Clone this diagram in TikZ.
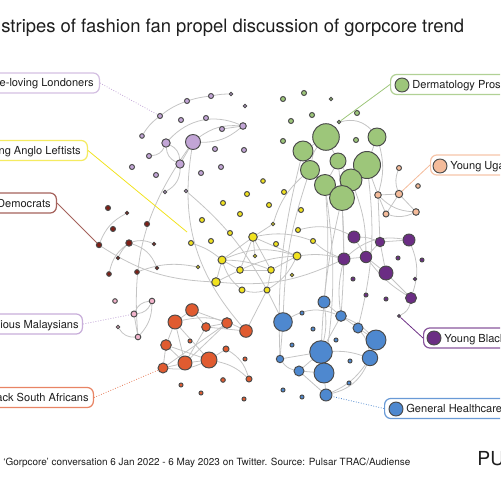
\documentclass[tikz,border=0pt]{standalone}
\usepackage{fontspec}
\setmainfont{TeX Gyre Heros}
\usetikzlibrary{backgrounds}

\definecolor{lavC}{HTML}{C2A5D6}
\definecolor{marC}{HTML}{7E1F16}
\definecolor{pnkC}{HTML}{F2B3CB}
\definecolor{yelC}{HTML}{F1E21E}
\definecolor{grnC}{HTML}{9DC67A}
\definecolor{salC}{HTML}{F4BB9A}
\definecolor{vioC}{HTML}{6B2D84}
\definecolor{bluC}{HTML}{4E88CF}
\definecolor{oraC}{HTML}{E05B30}
\definecolor{nodeC}{HTML}{4A4A4A}
\definecolor{linkC}{HTML}{C4C4C4}
\definecolor{inkC}{HTML}{1E1E1E}

\begin{document}
\begin{tikzpicture}[x=0.02cm, y=-0.02cm]
  \useasboundingbox (0,0) rectangle (500,500);
  \clip (0,0) rectangle (500,500);

  \tikzset{vertex/.style = {shape=circle, draw=nodeC, line width=0.55pt, inner sep=0pt, minimum size=#1*0.4mm}, vertex/.default=2.5}
  \tikzset{link/.style = {draw=linkC, line width=0.45pt}}
  \tikzset{lead/.style = {line width=0.45pt}}
  \tikzset{tagbox/.style = {draw, fill=white, rounded corners=3.5pt, line width=0.7pt, inner sep=0pt, minimum height=0.4cm, minimum width=3cm}}
  \tikzset{tagtext/.style = {inner sep=0pt, text=inkC, font=\fontsize{6.3}{7}\selectfont}}
  \tikzset{lav/.style={vertex=#1, fill=lavC}, lav/.default=2.5}
  \tikzset{mar/.style={vertex=#1, fill=marC}, mar/.default=2.5}
  \tikzset{pnk/.style={vertex=#1, fill=pnkC}, pnk/.default=2.5}
  \tikzset{yel/.style={vertex=#1, fill=yelC}, yel/.default=2.5}
  \tikzset{grn/.style={vertex=#1, fill=grnC}, grn/.default=2.5}
  \tikzset{sal/.style={vertex=#1, fill=salC}, sal/.default=2.5}
  \tikzset{vio/.style={vertex=#1, fill=vioC}, vio/.default=2.5}
  \tikzset{blu/.style={vertex=#1, fill=bluC}, blu/.default=2.5}
  \tikzset{ora/.style={vertex=#1, fill=oraC}, ora/.default=2.5}

  % title and footer
  \node[anchor=base west, inner sep=0pt, text=inkC, font=\fontsize{10.5}{12}\selectfont] (title) at (1,33) {stripes of fashion fan propel discussion of gorpcore trend};
  \node[anchor=base west, inner sep=0pt, text=inkC, font=\fontsize{5.65}{6.5}\selectfont] (source) at (3,465) {‘Gorpcore’ conversation 6 Jan 2022 - 6 May 2023 on Twitter. Source: Pulsar TRAC/Audiense};
  \node[anchor=base west, inner sep=0pt, text=inkC, font=\fontsize{11}{12}\selectfont] (brand) at (477,465) {PU};

  % lavender
  \node[lav] (l1) at (160,116) {};
  \node[lav] (l2) at (187,101) {};
  \node[lav] (l3) at (211,96) {};
  \node[lav=1.8] (l4) at (231,94) {};
  \node[lav=2.3] (l5) at (142,136) {};
  \node[lav] (l6) at (181,120) {};
  \node[lav] (l7) at (206,118) {};
  \node[lav=1.8] (l8) at (245,106) {};
  \node[lav=3.3] (l9) at (243,126) {};
  \node[lav] (l10) at (222,129) {};
  \node[lav=7.5] (l11) at (193,142) {};
  \node[lav=4.2] (l12) at (166,143) {};
  \node[lav=4.2] (l13) at (180,164) {};
  \node[lav] (l14) at (149,156) {};
  \node[lav] (l15) at (132,167) {};
  \node[lav] (l16) at (156,175) {};
  \node[lav=1.7] (l17) at (165,192) {};
  \node[lav=1.7] (l18) at (186,191) {};
  \node[lav] (l19) at (215,149) {};
  \node[lav] (l20) at (244,150) {};
  \node[lav] (l21) at (201,173) {};
  \node[lav] (l22) at (221,167) {};

  % maroon
  \node[mar] (m1) at (108,208) {};
  \node[mar=1.8] (m2) at (127,213) {};
  \node[mar] (m3) at (113,229) {};
  \node[mar] (m4) at (147,224) {};
  \node[mar=2.7] (m5) at (99,245) {};
  \node[mar=3.2] (m6) at (129,243) {};
  \node[mar=1.8] (m7) at (154,244) {};
  \node[mar=1.8] (m8) at (118,258) {};
  \node[mar=2.3] (m9) at (109,274) {};
  \node[mar=2.3] (m10) at (137,272) {};
  \node[mar=1.8] (m11) at (157,268) {};

  % pink
  \node[pnk=2.3] (k1) at (115,301) {};
  \node[pnk=2.8] (k2) at (152,301) {};
  \node[pnk=3] (k3) at (134,314) {};
  \node[pnk=1.8] (k4) at (118,327) {};
  \node[pnk=2.8] (k5) at (138,337) {};

  % yellow
  \node[yel] (y1) at (247,194) {};
  \node[yel] (y2) at (284,192) {};
  \node[yel] (y3) at (223,203) {};
  \node[yel] (y4) at (269,205) {};
  \node[yel] (y5) at (240,214) {};
  \node[yel] (y6) at (301,210) {};
  \node[yel] (y7) at (202,220) {};
  \node[yel=1.7] (y8) at (273,224) {};
  \node[yel] (y9) at (230,233) {};
  \node[yel] (y10) at (298,230) {};
  \node[yel] (y11) at (191,243) {};
  \node[yel] (y12) at (211,241) {};
  \node[yel=4.3] (y13) at (253,237) {};
  \node[yel] (y14) at (276,244) {};
  \node[yel] (y15) at (313,241) {};
  \node[yel=1.7] (y16) at (255,256) {};
  \node[yel=4] (y17) at (222,260) {};
  \node[yel=4] (y18) at (297,256) {};
  \node[yel=1.7] (y19) at (198,267) {};
  \node[yel=3.3] (y20) at (240,270) {};
  \node[yel=3.3] (y21) at (271,270) {};
  \node[yel=1.7] (y22) at (292,275) {};
  \node[yel=4.3] (y23) at (216,282) {};
  \node[yel=3] (y24) at (242,290) {};
  \node[yel=3] (y25) at (267,290) {};
  \node[yel=2.3] (y26) at (263,181) {};

  % green
  \node[grn] (g1) at (283,99) {};
  \node[grn] (g2) at (304,93) {};
  \node[grn=1.7] (g3) at (331,99) {};
  \node[grn] (g4) at (312,115) {};
  \node[grn] (g5) at (357,113) {};
  \node[grn] (g6) at (291,121) {};
  \node[grn=1.7] (g7) at (339,122) {};
  \node[grn] (g8) at (283,141) {};
  \node[grn] (g9) at (356,140) {};
  \node[grn=13.3] (g10) at (326,137) {};
  \node[grn=9] (g11) at (377,137) {};
  \node[grn=10] (g12) at (303,151) {};
  \node[grn=8] (g13) at (338,161) {};
  \node[grn=13.5] (g14) at (367,165) {};
  \node[grn=9.5] (g15) at (310,170) {};
  \node[grn=10.5] (g16) at (325,185) {};
  \node[grn=11] (g17) at (351,180) {};
  \node[grn=12.5] (g18) at (342,198) {};

  % salmon
  \node[sal] (s1) at (399,168) {};
  \node[sal=2.3] (s2) at (418,186) {};
  \node[sal=3.3] (s3) at (378,195) {};
  \node[sal=3.7] (s4) at (399,194) {};
  \node[sal=3] (s5) at (386,214) {};
  \node[sal=3.3] (s6) at (416,212) {};

  % violet
  \node[vio=6] (v1) at (354,237) {};
  \node[vio=4.7] (v2) at (380,242) {};
  \node[vio=6] (v3) at (409,240) {};
  \node[vio=6] (v4) at (344,259) {};
  \node[vio=5.7] (v5) at (366,257) {};
  \node[vio=2] (v6) at (398,258) {};
  \node[vio=2] (v7) at (422,260) {};
  \node[vio=7] (v8) at (386,273) {};
  \node[vio=2] (v9) at (353,279) {};
  \node[vio=1.7] (v10) at (415,279) {};
  \node[vio=2] (v11) at (366,295) {};
  \node[vio=2] (v12) at (386,299) {};
  \node[vio=5.5] (v13) at (411,298) {};
  \node[vio=1.5] (v14) at (399,316) {};

  % blue
  \node[blu=6] (b1) at (324,302) {};
  \node[blu=2] (b2) at (302,313) {};
  \node[blu=5.3] (b3) at (341,316) {};
  \node[blu=9.3] (b4) at (283,322) {};
  \node[blu=5] (b5) at (358,328) {};
  \node[blu=2] (b6) at (313,329) {};
  \node[blu=10] (b7) at (376,340) {};
  \node[blu=2] (b8) at (336,340) {};
  \node[blu=2] (b9) at (292,345) {};
  \node[blu=11.3] (b10) at (321,352) {};
  \node[blu=7.7] (b11) at (370,358) {};
  \node[blu=2] (b12) at (350,361) {};
  \node[blu=3.7] (b13) at (280,359) {};
  \node[blu=5] (b14) at (299,371) {};
  \node[blu=10] (b15) at (324,373) {};
  \node[blu=2] (b16) at (349,383) {};
  \node[blu=2] (b17) at (283,390) {};
  \node[blu=2] (b18) at (302,397) {};
  \node[blu=6] (b19) at (326,395) {};

  % orange
  \node[ora=6.3] (o1) at (192,310) {};
  \node[ora=7] (o2) at (175,322) {};
  \node[ora=5.3] (o3) at (227,323) {};
  \node[ora=4.3] (o4) at (206,327) {};
  \node[ora=6.3] (o5) at (246,331) {};
  \node[ora=2] (o6) at (190,341) {};
  \node[ora=5.3] (o7) at (166,345) {};
  \node[ora=3] (o8) at (226,349) {};
  \node[ora=8] (o9) at (209,360) {};
  \node[ora=7] (o10) at (185,363) {};
  \node[ora=2] (o11) at (245,359) {};
  \node[ora=5] (o12) at (163,368) {};
  \node[ora=3] (o13) at (249,379) {};
  \node[ora=2.3] (o14) at (223,380) {};
  \node[ora=2] (o15) at (181,385) {};
  \node[ora=2] (o16) at (201,393) {};
  \node[ora=2] (o17) at (244,399) {};

  \begin{scope}[on background layer]
    % lavender links
    \draw[link, bend left=10] (l5) to (l1);
    \draw[link, bend left=8] (l1) to (l2);
    \draw[link, bend left=5] (l2) to (l3);
    \draw[link, bend left=5] (l3) to (l4);
    \draw[link, bend left=35] (l12) to (l9);
    \draw[link, bend left=20] (l11) to (l9);
    \draw[link, bend right=20] (l11) to (l9);
    \draw[link] (l10) to (l9);
    \draw[link, bend left] (l12) to (l13);
    \draw[link, bend right] (l12) to (l13);
    \draw[link] (l11) to (l13);
    \draw[link, bend right] (l14) to (l12);
    \draw[link, bend left] (l13) to (l17);
    \draw[link, bend right=20] (l11) to (k5);
    \draw[link, bend right=25] (l11) to (o5);
    \draw[link, bend left=10] (l18) to (y25);

    % maroon links
    \draw[link, bend left=20] (m5) to (m2);
    \draw[link, bend right=15] (m5) to (y23);
    \draw[link, bend right=20] (m6) to (m9);
    \draw[link, bend right=10] (m6) to (m8);
    \draw[link, bend left=20] (m6) to (m7);
    \draw[link, bend left=25] (m6) to (m11);
    \draw[link, bend left=15] (m10) to (y19);

    % pink links
    \draw[link, bend left] (k3) to (k2);
    \draw[link, bend right] (k3) to (k2);
    \draw[link] (k3) to (k5);
    \draw[link, bend right] (k4) to (k5);
    \draw[link, bend left=20] (k2) to (k5);

    % yellow links
    \draw[link] (y13) to (y17);
    \draw[link] (y13) to (y20);
    \draw[link] (y13) to (y21);
    \draw[link] (y13) to (y18);
    \draw[link] (y13) to (y16);
    \draw[link] (y13) to (y8);
    \draw[link, bend left=15] (y13) to (y15);
    \draw[link] (y17) to (y20);
    \draw[link, bend left=10] (y17) to (y21);
    \draw[link, bend left=20] (y17) to (y18);
    \draw[link] (y20) to (y21);
    \draw[link, bend left=10] (y20) to (y18);
    \draw[link] (y21) to (y18);
    \draw[link] (y17) to (y23);
    \draw[link] (y23) to (y20);
    \draw[link, bend right=15] (y17) to (y24);
    \draw[link] (y21) to (y25);
    \draw[link, bend left=15] (y18) to (y25);
    \draw[link, bend right=15] (y24) to (y25);
    \draw[link, bend left=10] (y11) to (y17);
    \draw[link, bend left=15] (y8) to (g15);
    \draw[link, bend left=10] (y18) to (v4);
    \draw[link, bend right=15] (y23) to (v4);
    \draw[link] (y25) to (b4);
    \draw[link] (y25) to (o5);

    % green links
    \draw[link, bend left=30] (g7) to (g11);
    \draw[link] (g10) to (g12);
    \draw[link] (g10) to (g13);
    \draw[link, bend right=15] (g10) to (g15);
    \draw[link] (g12) to (g15);
    \draw[link] (g15) to (g16);
    \draw[link] (g16) to (g18);
    \draw[link] (g18) to (g17);
    \draw[link] (g17) to (g14);
    \draw[link] (g14) to (g11);
    \draw[link] (g13) to (g16);
    \draw[link] (g13) to (g17);
    \draw[link, bend right=8] (g15) to (b4);
    \draw[link, bend left=5] (g16) to (b1);
    \draw[link, bend right=5] (g18) to (b10);
    \draw[link, bend left=10] (g14) to (b5);
    \draw[link, bend right=8] (g12) to (b13);
    \draw[link, bend left=8] (g16) to (b15);
    \draw[link, bend left=5] (g13) to (b3);
    \draw[link] (g18) to (v4);
    \draw[link, bend left=10] (g17) to (v5);
    \draw[link] (g14) to (s3);
    \draw[link, bend left=15] (g11) to (s3);

    % salmon links
    \draw[link, bend right=20] (s1) to (s4);
    \draw[link] (s3) to (s4);
    \draw[link, bend right=20] (s3) to (s6);
    \draw[link] (s4) to (s5);
    \draw[link] (s4) to (s6);
    \draw[link, bend right=20] (s5) to (s6);
    \draw[link] (s3) to (s5);
    \draw[link] (s3) to (v2);

    % violet links
    \draw[link] (v4) to (v5);
    \draw[link] (v5) to (v2);
    \draw[link] (v2) to (v3);
    \draw[link] (v2) to (v8);
    \draw[link] (v5) to (v8);
    \draw[link] (v1) to (v5);
    \draw[link, bend left=25] (v4) to (v3);
    \draw[link] (v8) to (v13);
    \draw[link, bend right=10] (v5) to (v13);
    \draw[link, bend left=20] (v3) to (v13);
    \draw[link, bend left=25] (v13) to (v14);
    \draw[link, bend left=10] (v1) to (v2);
    \draw[link, bend right=20] (v1) to (y10);
    \draw[link, bend left=10] (v4) to (y15);
    \draw[link, bend right=10] (v4) to (b3);

    % blue links
    \draw[link] (b4) to (b13);
    \draw[link, bend left=25] (b4) to (b3);
    \draw[link] (b1) to (b3);
    \draw[link] (b3) to (b5);
    \draw[link] (b3) to (b10);
    \draw[link, bend left=15] (b5) to (b11);
    \draw[link] (b5) to (b7);
    \draw[link, bend left=10] (b3) to (b7);
    \draw[link] (b10) to (b15);
    \draw[link] (b10) to (b14);
    \draw[link] (b10) to (b13);
    \draw[link] (b15) to (b14);
    \draw[link] (b15) to (b19);
    \draw[link] (b14) to (b19);
    \draw[link, bend right=15] (b19) to (b11);
    \draw[link, bend right=25] (b19) to (b11);
    \draw[link] (b11) to (b7);
    \draw[link, bend left=10] (b10) to (b11);
    \draw[link, bend right=20] (b13) to (b14);
    \draw[link, bend left=10] (b1) to (b10);

    % orange links
    \draw[link] (o1) to (o2);
    \draw[link] (o1) to (o3);
    \draw[link] (o1) to (o4);
    \draw[link] (o2) to (o7);
    \draw[link] (o2) to (o10);
    \draw[link] (o2) to (o9);
    \draw[link] (o4) to (o3);
    \draw[link] (o4) to (o10);
    \draw[link] (o3) to (o10);
    \draw[link] (o3) to (o12);
    \draw[link] (o7) to (o12);
    \draw[link] (o7) to (o9);
    \draw[link] (o7) to (o10);
    \draw[link] (o10) to (o9);
    \draw[link] (o12) to (o10);
    \draw[link, bend right=15] (o12) to (o9);
    \draw[link] (o9) to (o8);
    \draw[link, bend left=15] (o9) to (o13);
    \draw[link, bend left=20] (o8) to (o13);
    \draw[link, bend left=20] (o2) to (o5);
    \draw[link] (o4) to (o5);
  \end{scope}

  % left tags
  \node[tagbox, draw=lavC!70, anchor=east] (londBox) at (100,83) {};
  \node[tagtext, anchor=base east] (londTxt) at (94,87) {ne-loving Londoners};
  \node[tagbox, draw=yelC!70, anchor=east] (leftBox) at (88,150.5) {};
  \node[tagtext, anchor=base east] (leftTxt) at (81,154.5) {ng Anglo Leftists};
  \node[tagbox, draw=marC!70, anchor=east] (demoBox) at (57,203) {};
  \node[tagtext, anchor=base east] (demoTxt) at (51,207) {Democrats};
  \node[tagbox, draw=lavC!90, anchor=east] (malaBox) at (83,324) {};
  \node[tagtext, anchor=base east] (malaTxt) at (79,328) {cious Malaysians};
  \node[tagbox, draw=oraC!75, anchor=east] (afrBox) at (94,397.5) {};
  \node[tagtext, anchor=base east] (afrTxt) at (89,401.5) {ack South Africans};

  % right tags
  \node[tagbox, draw=grnC!80, anchor=west] (dermBox) at (390,84.5) {};
  \node[grn=7] (dermDot) at (402,85) {};
  \node[tagtext, anchor=base west] (dermTxt) at (412,88.5) {Dermatology Pros};
  \node[tagbox, draw=salC!85, anchor=west] (ugaBox) at (430,165) {};
  \node[sal=7] (ugaDot) at (440,166) {};
  \node[tagtext, anchor=base west] (ugaTxt) at (450,169) {Young Uga};
  \node[tagbox, draw=vioC!80, anchor=west] (blackBox) at (423,338) {};
  \node[vio=7] (blackDot) at (434,338) {};
  \node[tagtext, anchor=base west] (blackTxt) at (444,342) {Young Black};
  \node[tagbox, draw=bluC!85, anchor=west] (healthBox) at (384,408.5) {};
  \node[blu=7] (healthDot) at (396,409) {};
  \node[tagtext, anchor=base west] (healthTxt) at (406,412.5) {General Healthcare};

  % leader lines
  \coordinate (leftEnd) at (187,232);
  \draw[lead, draw=lavC, densely dotted] (londBox.east) to (l1);
  \draw[lead, draw=yelC] (leftBox.east) to (leftEnd);
  \draw[lead, draw=marC!70] (demoBox.east) to (m5);
  \draw[lead, draw=lavC, densely dotted] (malaBox.east) to (k3);
  \draw[lead, draw=oraC!80, densely dotted] (afrBox.east) to (o12);
  \draw[lead, draw=grnC] (dermBox.west) to (g7);
  \draw[lead, draw=salC] (ugaBox.west) to (s4);
  \draw[lead, draw=vioC] (blackBox.west) to (v14);
  \draw[lead, draw=bluC, densely dotted] (healthBox.west) to (b19);
\end{tikzpicture}
\end{document}
